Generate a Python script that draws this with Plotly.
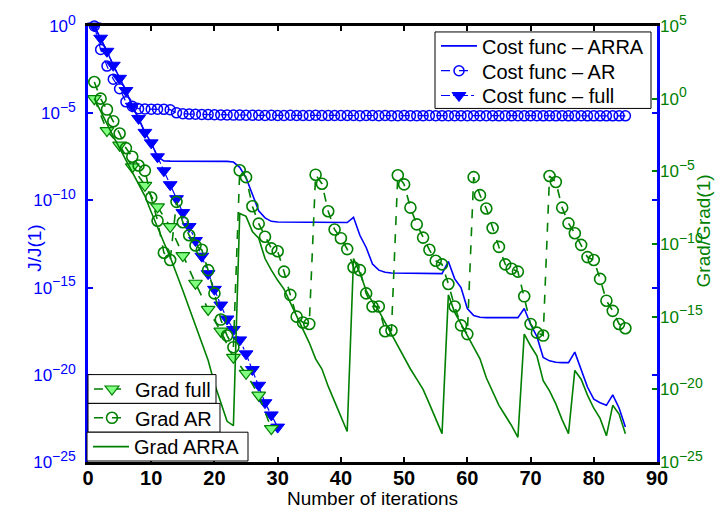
import numpy as np
import plotly.graph_objects as go

# ---------------- data (values are log10 of the normalised quantities) ----------------
iters_cost_full = list(range(1, 31))
cost_full_log10 = [0.00, -0.70, -1.45, -2.25, -3.00, -3.70, -4.60, -5.30, -6.10, -6.70,
                   -7.50, -8.30, -9.10, -9.90, -10.70, -11.50, -12.30, -13.20, -14.20, -15.10,
                   -16.00, -16.80, -17.40, -18.00, -18.80, -19.70, -20.60, -21.60, -22.30, -23.00]

iters_cost = list(range(1, 86))
cost_ar_log10 = [0.00, -1.35, -2.30, -3.05, -3.60, -4.35, -4.60, -4.74, -4.76, -4.77,
                 -4.77, -4.78, -4.80, -4.98, -5.03, -5.05, -5.06, -5.07, -5.08, -5.09,
                 -5.10, -5.10, -5.11, -5.11, -5.12, -5.12, -5.12, -5.13, -5.12, -5.13,
                 -5.13, -5.12, -5.13, -5.13, -5.13, -5.12, -5.13, -5.13, -5.13, -5.13,
                 -5.13, -5.13, -5.14, -5.13, -5.13, -5.14, -5.13, -5.14, -5.14, -5.13,
                 -5.14, -5.14, -5.14, -5.13, -5.14, -5.14, -5.14, -5.14, -5.14, -5.14,
                 -5.14, -5.14, -5.14, -5.14, -5.15, -5.14, -5.14, -5.14, -5.15, -5.14,
                 -5.14, -5.15, -5.14, -5.15, -5.14, -5.15, -5.15, -5.14, -5.15, -5.15,
                 -5.15, -5.15, -5.15, -5.15, -5.15]
cost_arra_log10 = [0.00, -0.70, -1.45, -2.25, -3.00, -3.70, -4.60, -5.30, -6.10, -6.70,
                   -7.50, -7.74, -7.75, -7.75, -7.75, -7.75, -7.75, -7.75, -7.75, -7.75,
                   -7.75, -7.76, -7.80, -8.10, -8.70, -9.70, -10.60, -11.00, -11.20, -11.24,
                   -11.25, -11.25, -11.25, -11.25, -11.25, -11.25, -11.25, -11.26, -11.26, -11.26,
                   -11.27, -10.97, -12.00, -12.70, -13.65, -14.00, -14.12, -14.16, -14.16, -14.16,
                   -14.16, -14.17, -14.17, -14.18, -14.19, -14.20, -13.50, -14.50, -15.00, -16.20,
                   -16.60, -16.70, -16.72, -16.72, -16.72, -16.72, -16.72, -16.72, -16.20, -17.10,
                   -17.80, -19.00, -19.20, -19.28, -19.30, -19.30, -18.70, -19.76, -20.70, -21.40,
                   -21.60, -21.75, -21.15, -21.90, -23.00]

iters_grad_full = list(range(1, 30, 2))
grad_full_log10 = [0.00, -2.20, -3.20, -4.70, -5.96, -7.44, -8.80, -10.80, -12.70, -14.50,
                   -16.00, -17.80, -18.90, -20.40, -22.70]

iters_grad = list(range(1, 86))
grad_ar_log10 = [1.15, 0.00, -0.75, -1.55, -2.40, -3.40, -4.00, -4.60, -4.95, -6.80,
                 -8.40, -10.60, -11.10, -7.10, -8.50, -9.40, -10.10, -10.40, -11.80, -13.40,
                 -15.20, -16.30, -17.10,
                 -4.93, -5.40, -7.40, -8.60, -9.50, -10.30, -10.50, -11.90, -13.50, -15.00,
                 -15.40, -15.50,
                 -5.23, -5.85, -7.75, -9.00, -9.60, -10.35, -11.60, -11.80, -13.40, -14.30,
                 -14.30, -16.00, -15.95,
                 -5.27, -5.90, -7.50, -8.65, -9.56, -10.40, -11.15, -11.40, -12.75, -14.30,
                 -15.60, -16.20,
                 -5.40, -6.64, -7.56, -8.90, -10.20, -11.40, -11.70, -11.90, -13.60, -15.50,
                 -16.10, -16.30,
                 -5.32, -5.73, -7.50, -8.58, -9.26, -10.06, -10.90, -11.10, -12.40, -13.90,
                 -14.60, -15.50, -15.80]
grad_arra_log10 = [0.00, -0.90, -1.80, -2.60, -3.40, -4.20, -5.00, -5.80, -6.70, -7.80,
                   -8.90, -9.90, -10.90, -12.00, -13.20, -14.40, -15.60, -16.80, -18.00, -19.60,
                   -20.90, -22.20, -22.50,
                   -7.90, -8.10, -9.15, -9.60, -11.00, -11.80, -12.50, -13.10, -14.00, -14.90,
                   -15.80, -16.80, -17.90, -18.60, -19.80, -20.80, -21.80, -22.90,
                   -11.00, -12.00, -13.20, -14.00, -14.60, -15.40, -16.30, -17.10, -17.90, -18.60,
                   -19.30, -20.00, -21.00, -22.00, -23.05,
                   -13.50, -14.70, -15.50, -16.30, -17.00, -17.90, -19.20, -20.10, -21.10, -21.80,
                   -22.50, -23.30,
                   -16.20, -17.00, -17.70, -19.40, -20.10, -21.00, -22.10, -23.05,
                   -18.70, -19.30, -20.40, -21.30, -22.00, -23.20,
                   -21.10, -21.70, -23.05]

x_ticks = [0, 10, 20, 30, 40, 50, 60, 70, 80, 90]
left_exps = [0, -5, -10, -15, -20, -25]
right_exps = [5, 0, -5, -10, -15, -20, -25]


def pow_label(e):
    sign = "\u2212" if e < 0 else ""
    return '10<sup><span style="font-size:14px">%s%d</span></sup>' % (sign, abs(e))


BLUE = "#0000ff"
GREEN = "#008000"
LIGHT_GREEN = "#80ff80"
FONT = "Liberation Sans, Arial, Helvetica, sans-serif"

# plot area in pixels (left, right, top, bottom) inside the 722x510 page
PL, PR, PT, PB = 88, 657, 23, 462


def xp(px):
    return (px - PL) / (PR - PL)


def yp(py):
    return (PB - py) / (PB - PT)


fig = go.Figure()

# cost function curves (left axis)
fig.add_trace(go.Scatter(
    x=iters_cost, y=10 ** np.array(cost_arra_log10), mode="lines",
    name="Cost func \u2013 ARRA", line=dict(color=BLUE, width=1.6),
    legend="legend", cliponaxis=False))
fig.add_trace(go.Scatter(
    x=iters_cost, y=10 ** np.array(cost_ar_log10), mode="lines+markers",
    name="Cost func \u2013 AR", line=dict(color=BLUE, width=1.2, dash="dash"),
    marker=dict(symbol="circle-open", size=10, color=BLUE, line=dict(width=1.5)),
    legend="legend2", cliponaxis=False))
fig.add_trace(go.Scatter(
    x=iters_cost_full, y=10 ** np.array(cost_full_log10), mode="lines+markers",
    name="Cost func \u2013 full", line=dict(color=BLUE, width=1.2, dash="dashdot"),
    marker=dict(symbol="triangle-down", size=12, color=BLUE, line=dict(width=1, color=BLUE)),
    legend="legend3", cliponaxis=False))

# gradient curves (right axis)
fig.add_trace(go.Scatter(
    x=iters_grad_full, y=10 ** np.array(grad_full_log10), mode="lines+markers", yaxis="y2",
    name="Grad full", line=dict(color=GREEN, width=1.6, dash="dash"),
    marker=dict(symbol="triangle-down", size=12, color=LIGHT_GREEN, line=dict(width=1.2, color=GREEN)),
    legend="legend4", cliponaxis=False))
fig.add_trace(go.Scatter(
    x=iters_grad, y=10 ** np.array(grad_ar_log10), mode="lines+markers", yaxis="y2",
    name="Grad AR", line=dict(color=GREEN, width=1.6, dash="dash"),
    marker=dict(symbol="circle-open", size=11, color=GREEN, line=dict(width=1.6)),
    legend="legend5", cliponaxis=False))
fig.add_trace(go.Scatter(
    x=iters_grad, y=10 ** np.array(grad_arra_log10), mode="lines", yaxis="y2",
    name="Grad ARRA", line=dict(color=GREEN, width=1.6),
    legend="legend6", cliponaxis=False))

legend_common = dict(bgcolor="rgba(0,0,0,0)", borderwidth=0, itemwidth=36,
                     font=dict(family=FONT, size=20, color="black"),
                     tracegroupgap=0, itemclick=False, xanchor="left", yanchor="middle")

# legend boxes: (left, right, top, bottom) in pixels
boxes = [(435, 651, 29, 106), (88, 216, 374, 403), (88, 220, 403, 432), (87, 248, 432, 461)]
shapes = [dict(type="rect", xref="paper", yref="paper", layer="above",
               x0=xp(l), x1=xp(r), y0=yp(b), y1=yp(t),
               fillcolor="white", line=dict(color="black", width=1))
          for (l, r, t, b) in boxes]

fig.update_layout(
    width=722, height=510,
    margin=dict(l=PL, r=722 - PR, t=PT, b=510 - PB),
    paper_bgcolor="white", plot_bgcolor="white",
    font=dict(family=FONT, size=17, color="black"),
    xaxis=dict(range=[0, 90], tickvals=x_ticks, ticks="inside", ticklen=5, tickwidth=1.5,
               tickcolor="black", showline=True, linecolor="black", linewidth=2.5,
               mirror="ticks", showgrid=False, zeroline=False, ticklabelstandoff=-4,
               tickfont=dict(family=FONT, size=20, color="black", weight="bold")),
    yaxis=dict(type="log", range=[-25, 0], tickvals=[10.0 ** e for e in left_exps],
               ticktext=[pow_label(e) for e in left_exps],
               ticks="inside", ticklen=5, tickwidth=1.5, tickcolor=BLUE,
               showline=True, linecolor=BLUE, linewidth=2.5, mirror="ticks",
               showgrid=False, zeroline=False, ticklabelstandoff=6,
               tickfont=dict(family=FONT, size=17, color=BLUE)),
    yaxis2=dict(type="log", range=[-25, 5], overlaying="y", side="right",
                tickvals=[10.0 ** e for e in right_exps],
                ticktext=[pow_label(e) for e in right_exps],
                ticks="inside", ticklen=5, tickwidth=1.5, tickcolor=GREEN,
                showline=False, showgrid=False, zeroline=False, ticklabelstandoff=2,
                tickfont=dict(family=FONT, size=17, color=GREEN)),
    legend=dict(x=xp(436), y=yp(43), **legend_common),
    legend2=dict(x=xp(436), y=yp(68), **legend_common),
    legend3=dict(x=xp(436), y=yp(93), **legend_common),
    legend4=dict(x=xp(89), y=yp(388.5), **legend_common),
    legend5=dict(x=xp(89), y=yp(417.5), **legend_common),
    legend6=dict(x=xp(88), y=yp(446.5), **legend_common),
    showlegend=True,
    shapes=shapes,
    annotations=[
        dict(text="J/J(1)", xref="paper", yref="paper", x=0, y=0.49, xshift=-66,
             textangle=-90, showarrow=False, font=dict(family=FONT, size=19, color=BLUE)),
        dict(text="Grad/Grad(1)", xref="paper", yref="paper", x=1, y=0.53, xshift=59,
             textangle=-90, showarrow=False, font=dict(family=FONT, size=19, color=GREEN)),
        dict(text="Number of iterations", xref="paper", yref="paper", x=0.5, y=0,
             yshift=-36, showarrow=False, yanchor="middle",
             font=dict(family=FONT, size=19, color="black")),
    ],
)

fig.write_html("out.html")
